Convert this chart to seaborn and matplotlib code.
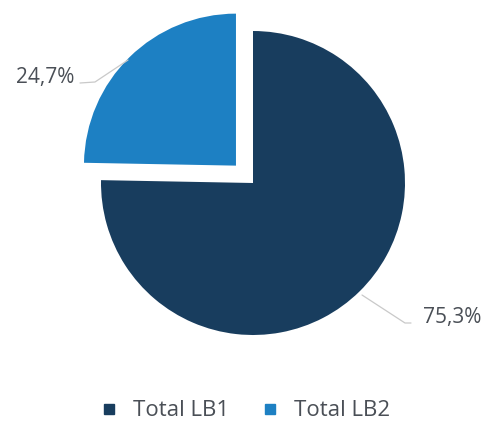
import numpy as np
import seaborn as sns
import matplotlib.pyplot as plt

labels = ['Total LB1', 'Total LB2']
shares = [75.3, 24.7]
pct_text = ['75,3%', '24,7%']
colors = ['#183d5e', '#1d80c3']

sns.set_theme(style='white')
plt.rcParams['font.family'] = ['Open Sans', 'DejaVu Sans']

fig = plt.figure(figsize=(4.88, 4.32), dpi=100)
ax = fig.add_axes([0, 0, 1, 1])

wedges, _ = ax.pie(shares, colors=colors, startangle=90, counterclock=False,
                   explode=[0, 0.16], radius=1,
                   wedgeprops=dict(linewidth=0))

# pixel layout: centre (253, 183), radius 152
r = 152.0
ax.set_xlim(-253 / r, (488 - 253) / r)
ax.set_ylim(-(432 - 183) / r, 183 / r)
ax.set_aspect('auto')
ax.axis('off')

txt = '#4a4f56'
line = '#c9c9c9'
# 24,7% label
ax.plot([(80 - 253) / r, (95 - 253) / r, (128 - 253) / r],
        [-(83 - 183) / r, -(82 - 183) / r, -(60 - 183) / r], color=line, lw=0.9)
ax.text((74 - 253) / r, -(78 - 183) / r, pct_text[1], ha='right', va='center',
        fontsize=15, color=txt)
# 75,3% label
ax.plot([(362 - 253) / r, (405 - 253) / r, (411 - 253) / r],
        [-(295 - 183) / r, -(323 - 183) / r, -(323 - 183) / r], color=line, lw=0.9)
ax.text((423 - 253) / r, -(318 - 183) / r, pct_text[0], ha='left', va='center',
        fontsize=15, color=txt)

handles = [plt.Line2D([], [], marker='s', ls='', color=c, markersize=6.5) for c in colors]
fig.legend(handles, labels, loc='center', bbox_to_anchor=(0.5, 1 - 411 / 432),
           ncol=2, frameon=False, fontsize=16, handletextpad=0.6,
           columnspacing=1.3, labelcolor=txt, handlelength=1.0)

fig.savefig('out.png', dpi=100, facecolor='white')
